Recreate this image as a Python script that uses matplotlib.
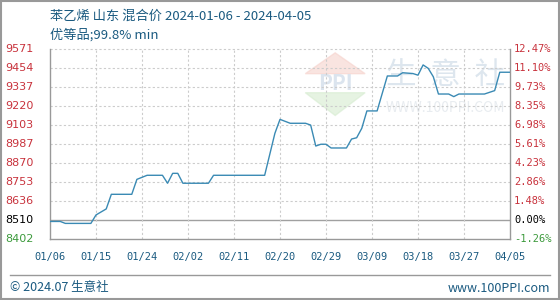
import numpy as np
import pandas as pd
import matplotlib
matplotlib.use('Agg')
import matplotlib.pyplot as plt
from matplotlib.patches import Rectangle, Polygon

plt.rcParams['font.family'] = ['Noto Sans CJK SC', 'DejaVu Sans']

# price data (breakpoints)
dates = ['2024-01-06', '2024-01-08', '2024-01-09', '2024-01-14', '2024-01-15', '2024-01-17',
         '2024-01-18', '2024-01-22', '2024-01-23', '2024-01-25', '2024-01-28', '2024-01-29',
         '2024-01-30', '2024-01-31', '2024-02-01', '2024-02-06', '2024-02-07', '2024-02-17',
         '2024-02-19', '2024-02-20', '2024-02-22', '2024-02-25', '2024-02-26', '2024-02-27',
         '2024-02-28', '2024-02-29', '2024-03-01', '2024-03-04', '2024-03-05', '2024-03-06',
         '2024-03-07', '2024-03-08', '2024-03-10', '2024-03-12', '2024-03-14', '2024-03-15',
         '2024-03-17', '2024-03-18', '2024-03-19', '2024-03-20', '2024-03-21', '2024-03-22',
         '2024-03-24', '2024-03-25', '2024-03-26', '2024-03-31', '2024-04-02', '2024-04-03',
         '2024-04-05']
prices = [8510, 8510, 8498, 8498, 8550, 8587,
          8677, 8677, 8769, 8794, 8794, 8745,
          8806, 8806, 8745, 8745, 8794, 8794,
          9052, 9138, 9114, 9114, 9103, 8974,
          8985, 8985, 8962, 8962, 9017, 9025,
          9083, 9190, 9190, 9405, 9405, 9425,
          9420, 9410, 9473, 9452, 9400, 9294,
          9294, 9278, 9294, 9294, 9315, 9428,
          9428]

x_labels = ['01/06', '01/15', '01/24', '02/02', '02/11', '02/20', '02/29', '03/09', '03/18', '03/27', '04/05']
y_labels = ['8402', '8510', '8636', '8753', '8870', '8987', '9103', '9220', '9337', '9454', '9571']
pct_labels = ['-1.26%', '0.00%', '1.48%', '2.86%', '4.23%', '5.61%', '6.98%', '8.35%', '9.73%', '11.10%', '12.47%']

start = pd.Timestamp('2024-01-06')
days = [(pd.Timestamp(d) - start).days for d in dates]

red = '#c8323c'
green = '#3c9a3c'
navy = '#1a5a80'

fig = plt.figure(figsize=(5.6, 3.0), dpi=100)
ax = fig.add_axes([50 / 560, 61 / 300, 460 / 560, 190 / 300])

ymin, ymax = 8402, 9571
yt = np.linspace(ymin, ymax, 11)
ax.set_ylim(ymin, ymax)
ax.set_xlim(0, 90)

for i, y in enumerate(yt):
    if i == 1:
        ax.axhline(y, color='#a0a0a0', lw=1.0, zorder=1)
    elif i > 1:
        ax.axhline(y, color='#cccccc', lw=0.8, ls=(0, (2, 2)), zorder=1, clip_on=False)
for d in range(9, 90, 9):
    ax.axvline(d, color='#cccccc', lw=0.8, ls=(0, (2, 2)), zorder=1)

# watermark (logo + site name)
ax.add_patch(Polygon([[0.62, 0.98], [0.685, 0.87], [0.555, 0.87]], closed=True,
                     transform=ax.transAxes, color='#f6d2cc', alpha=0.6, zorder=0))
ax.add_patch(Polygon([[0.555, 0.77], [0.685, 0.77], [0.62, 0.65]], closed=True,
                     transform=ax.transAxes, color='#d6ecd0', alpha=0.6, zorder=0))
ax.text(0.62, 0.82, 'PPI', transform=ax.transAxes, ha='center', va='center',
        fontsize=15, color='#dbe4ee', fontweight='bold', zorder=0)
ax.text(0.86, 0.86, '生  意  社', transform=ax.transAxes, ha='center', va='center',
        fontsize=22, color='#dde6ee', zorder=0)
ax.text(0.86, 0.69, 'WWW.100PPI.COM', transform=ax.transAxes, ha='center', va='center',
        fontsize=10, color='#e8ecf0', zorder=0)

ax.plot(days, prices, color='#3a8ab4', lw=1.0, zorder=3)

ax.spines['top'].set_visible(False)
for s in ['left', 'right', 'bottom']:
    ax.spines[s].set_color('#999999')
    ax.spines[s].set_linewidth(1.0)
ax.set_xticks([])
ax.set_yticks([])

# axis labels as text
for i, y in enumerate(yt):
    c = red if i > 1 else ('black' if i == 1 else green)
    ax.text(-45 / 460 * 90, y, y_labels[i], ha='left', va='center', fontsize=8,
            color=c, family='DejaVu Sans')
    ax.text(90 + 4 / 460 * 90, y, pct_labels[i], ha='left', va='center', fontsize=7.5,
            color=c, family='DejaVu Sans Mono')
for i, lab in enumerate(x_labels):
    ax.text(i * 9, ymin - 18 / 190 * (ymax - ymin), lab, ha='center', va='center',
            fontsize=7.5, color=navy, family='DejaVu Sans Mono')

fig.text(50 / 560, 1 - 16 / 300, '苯乙烯 山东 混合价 2024-01-06 - 2024-04-05', ha='left', va='center',
         fontsize=9.5, color=navy)
fig.text(50 / 560, 1 - 35 / 300, '优等品;99.8% min', ha='left', va='center',
         fontsize=9.5, color=navy)

fig.add_artist(plt.Line2D([10 / 560, 550 / 560], [1 - 275 / 300, 1 - 275 / 300],
                          color='#999999', lw=1.0))
fig.text(10 / 560, 1 - 288 / 300, '© 2024.07 生意社', ha='left', va='center',
         fontsize=9, color=navy)
fig.text(550 / 560, 1 - 288 / 300, 'www.100PPI.com', ha='right', va='center',
         fontsize=9, color=navy)
fig.add_artist(Rectangle((0.001, 0.002), 0.997, 0.996, transform=fig.transFigure,
                         fill=False, edgecolor='#999999', lw=1.5))

fig.savefig('out.png', dpi=100)
